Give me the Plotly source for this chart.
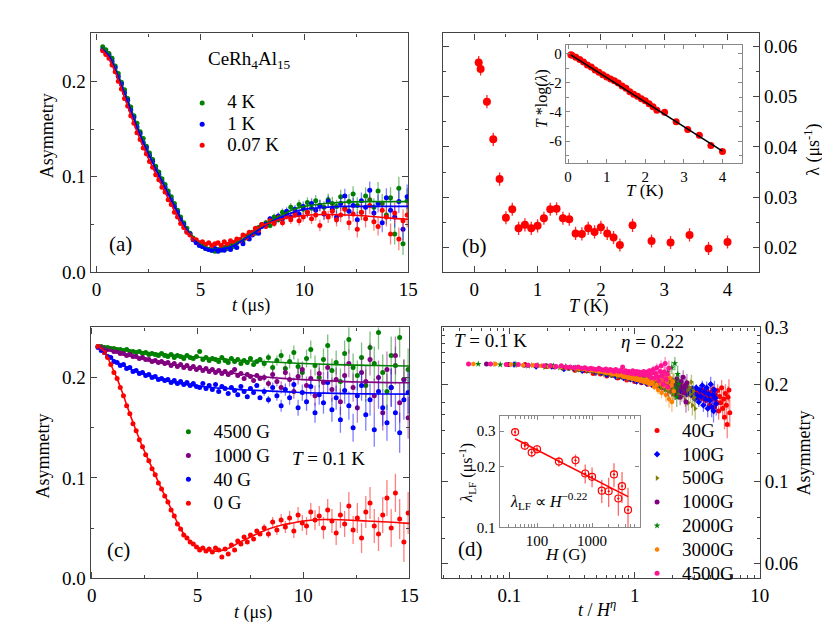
import plotly.graph_objects as go

W, H = 830, 636
SER = "Liberation Serif, 'Times New Roman', Times, serif"


def px(X):
    return X / W


def py(Y):
    return 1 - Y / H


# ---------------- shared time grid (us) ----------------
t_grid = [0.30, 0.45, 0.60, 0.75, 0.90, 1.05, 1.20, 1.35, 1.50, 1.65, 1.80, 1.95, 2.10, 2.25, 2.40, 2.55, 2.70, 2.85,
          3.00, 3.15, 3.30, 3.45, 3.60, 3.75, 3.90, 4.05, 4.20, 4.35, 4.50, 4.65, 4.80, 4.95, 5.10, 5.25, 5.40, 5.55,
          5.70, 5.85, 6.00, 6.15, 6.30, 6.45, 6.60, 6.75, 6.90, 7.05, 7.20, 7.35, 7.50, 7.65, 7.80, 7.95,
          8.15, 8.35, 8.55, 8.75, 8.95, 9.15, 9.35, 9.55, 9.75, 9.95, 10.15, 10.35, 10.55, 10.75, 10.95, 11.15,
          11.35, 11.55, 11.75, 11.95, 12.15, 12.35, 12.55, 12.75, 12.95, 13.15, 13.35, 13.55, 13.75, 13.95, 14.15,
          14.35, 14.55, 14.75, 14.95]

# ---------------- panel (a): ZF asymmetry at 4 K, 1 K, 0.07 K ----------------
a_4K = [0.236, 0.233, 0.229, 0.224, 0.216, 0.208, 0.199, 0.191, 0.182, 0.173, 0.164, 0.156, 0.147, 0.140, 0.132,
        0.125, 0.118, 0.111, 0.105, 0.098, 0.092, 0.085, 0.079, 0.072, 0.065, 0.058, 0.052, 0.046, 0.041, 0.036,
        0.032, 0.029, 0.027, 0.025, 0.024, 0.023, 0.022, 0.024, 0.023, 0.026, 0.025, 0.028, 0.027, 0.031, 0.034,
        0.033, 0.038, 0.040, 0.042, 0.041, 0.047, 0.050,
        0.052, 0.049, 0.058, 0.055, 0.063, 0.060, 0.068, 0.062, 0.071, 0.066, 0.073, 0.067, 0.075, 0.070, 0.068,
        0.076, 0.072, 0.069, 0.079, 0.067, 0.074, 0.082, 0.070, 0.063, 0.080, 0.076, 0.068, 0.085, 0.072, 0.060,
        0.078, 0.040, 0.088, 0.030, 0.075]
a_1K = [0.233, 0.230, 0.227, 0.221, 0.214, 0.205, 0.197, 0.188, 0.180, 0.170, 0.162, 0.152, 0.145, 0.136, 0.130,
        0.122, 0.116, 0.108, 0.102, 0.095, 0.089, 0.082, 0.076, 0.069, 0.063, 0.055, 0.050, 0.043, 0.040, 0.034,
        0.031, 0.028, 0.027, 0.025, 0.024, 0.023, 0.025, 0.022, 0.024, 0.023, 0.027, 0.024, 0.029, 0.026, 0.033,
        0.030, 0.037, 0.035, 0.039, 0.043, 0.041, 0.048,
        0.050, 0.056, 0.053, 0.059, 0.056, 0.064, 0.058, 0.066, 0.061, 0.069, 0.063, 0.072, 0.065, 0.070, 0.061,
        0.074, 0.066, 0.058, 0.072, 0.080, 0.064, 0.070, 0.055, 0.075, 0.068, 0.086, 0.062, 0.072, 0.052, 0.078,
        0.065, 0.058, 0.074, 0.045, 0.079]
a_007K = [0.232, 0.228, 0.224, 0.217, 0.210, 0.200, 0.192, 0.182, 0.174, 0.164, 0.156, 0.146, 0.139, 0.130, 0.124,
          0.116, 0.110, 0.102, 0.097, 0.089, 0.084, 0.076, 0.071, 0.063, 0.058, 0.051, 0.047, 0.042, 0.039, 0.035,
          0.034, 0.031, 0.032, 0.029, 0.031, 0.028, 0.030, 0.031, 0.028, 0.032, 0.029, 0.033, 0.031, 0.035, 0.033,
          0.039, 0.036, 0.042, 0.040, 0.046, 0.044, 0.050,
          0.048, 0.054, 0.051, 0.057, 0.052, 0.059, 0.055, 0.061, 0.054, 0.058, 0.063, 0.056, 0.060, 0.049, 0.062,
          0.058, 0.064, 0.055, 0.060, 0.066, 0.052, 0.061, 0.045, 0.063, 0.056, 0.070, 0.053, 0.048, 0.065, 0.058,
          0.040, 0.062, 0.035, 0.054, 0.060]
err_a = [0.0008, 0.0008, 0.0008, 0.0008, 0.0008, 0.0008, 0.0008, 0.0008, 0.0008, 0.0008,
         0.0008, 0.0008, 0.0008, 0.0008, 0.0008, 0.0008, 0.0008, 0.0008, 0.0008, 0.0008,
         0.0012, 0.0012, 0.0012, 0.0012, 0.0012, 0.0012, 0.0012, 0.0012, 0.0012, 0.0012,
         0.0012, 0.0012, 0.0012, 0.0012, 0.0012, 0.0012, 0.0018, 0.0018, 0.0018, 0.0018,
         0.0018, 0.0018, 0.0018, 0.0018, 0.0018, 0.0018, 0.0018, 0.0018, 0.0018, 0.0018, 0.0018, 0.0018,
         0.003, 0.003, 0.0035, 0.0035, 0.004, 0.004, 0.0045, 0.0045, 0.005, 0.005, 0.0055, 0.0055, 0.006, 0.006,
         0.0065, 0.0065, 0.007, 0.007, 0.0075, 0.0075, 0.008, 0.008, 0.0085, 0.0085, 0.009, 0.009, 0.0095, 0.0095,
         0.010, 0.010, 0.011, 0.011, 0.012, 0.012, 0.013]

t_fit = [0.3, 0.6, 0.9, 1.2, 1.5, 1.8, 2.1, 2.4, 2.7, 3.0, 3.3, 3.6, 3.9, 4.2, 4.5, 4.8, 5.1, 5.4, 5.7, 6.0, 6.5, 7.0,
         7.5, 8.0, 8.5, 9.0, 9.5, 10, 11, 12, 13, 14, 15]
fit_4K = [0.235, 0.229, 0.215, 0.198, 0.181, 0.163, 0.146, 0.131, 0.117, 0.104, 0.091, 0.078, 0.064, 0.051, 0.041,
          0.033, 0.028, 0.0255, 0.0245, 0.025, 0.028, 0.034, 0.041, 0.048, 0.055, 0.061, 0.066, 0.069, 0.072,
          0.0735, 0.074, 0.074, 0.074]
fit_1K = [0.233, 0.227, 0.213, 0.196, 0.179, 0.161, 0.144, 0.129, 0.115, 0.102, 0.089, 0.076, 0.063, 0.050, 0.040,
          0.032, 0.027, 0.0245, 0.024, 0.0245, 0.027, 0.033, 0.040, 0.047, 0.054, 0.059, 0.063, 0.066, 0.068,
          0.069, 0.069, 0.069, 0.069]
fit_007K = [0.232, 0.224, 0.210, 0.192, 0.174, 0.156, 0.139, 0.124, 0.110, 0.097, 0.084, 0.071, 0.058, 0.047, 0.039,
            0.034, 0.031, 0.0295, 0.029, 0.0295, 0.032, 0.037, 0.043, 0.049, 0.053, 0.056, 0.058, 0.0595, 0.0605,
            0.060, 0.059, 0.057, 0.0555]

# ---------------- panel (b): relaxation rate vs T ----------------
T_b = [0.07, 0.1, 0.2, 0.3, 0.4, 0.5, 0.6, 0.7, 0.8, 0.9, 1.0, 1.1, 1.2, 1.3, 1.4, 1.5, 1.6, 1.7, 1.8, 1.9, 2.0, 2.1,
       2.2, 2.3, 2.5, 2.8, 3.1, 3.4, 3.7, 4.0]
lam_b = [0.0568, 0.0555, 0.0490, 0.0415, 0.0336, 0.0259, 0.0276, 0.0238, 0.0245, 0.0238, 0.0243, 0.0258, 0.0276,
         0.0277, 0.0258, 0.0256, 0.0228, 0.0227, 0.0238, 0.0231, 0.0240, 0.0228, 0.0220, 0.0205, 0.0244, 0.0213,
         0.0210, 0.0225, 0.0198, 0.0211]
lam_err = [0.0013, 0.0013, 0.0013, 0.0013, 0.0013, 0.0013, 0.0013, 0.0013, 0.0013, 0.0013, 0.0013, 0.0013, 0.0013,
           0.0013, 0.0013, 0.0013, 0.0013, 0.0013, 0.0013, 0.0013, 0.0013, 0.0013, 0.0013, 0.0013, 0.0013, 0.0013,
           0.0013, 0.0013, 0.0013, 0.0013]
Tlog_b = [-0.087, -0.126, -0.262, -0.415, -0.589, -0.793, -0.935, -1.136, -1.289, -1.461, -1.614, -1.747, -1.871,
          -2.025, -2.224, -2.388, -2.627, -2.795, -2.922, -3.109, -3.240, -3.448, -3.647, -3.883, -4.032, -4.681,
          -5.201, -5.603, -6.302, -6.703]
T_line = [0.07, 4.0]
Tlog_line = [-0.10, -6.68]

# ---------------- panel (c): LF asymmetry at T = 0.1 K ----------------
c_4500G = [0.231, 0.231, 0.230, 0.230, 0.229, 0.229, 0.228, 0.228, 0.227, 0.228, 0.226, 0.226, 0.225, 0.226, 0.224,
           0.225, 0.223, 0.224, 0.223, 0.222, 0.224, 0.222, 0.221, 0.223, 0.220, 0.222, 0.221, 0.219, 0.222, 0.220,
           0.219, 0.221, 0.226, 0.218, 0.220, 0.217, 0.219, 0.218, 0.216, 0.220, 0.217, 0.215, 0.219, 0.216, 0.218,
           0.214, 0.217, 0.215, 0.219, 0.213, 0.216, 0.218,
           0.214, 0.220, 0.210, 0.217, 0.222, 0.209, 0.216, 0.225, 0.211, 0.205, 0.219, 0.228, 0.212, 0.200, 0.218,
           0.232, 0.207, 0.215, 0.196, 0.224, 0.238, 0.210, 0.202, 0.220, 0.192, 0.230, 0.214, 0.245, 0.205, 0.186,
           0.222, 0.212, 0.240, 0.198, 0.208]
c_1000G = [0.231, 0.230, 0.229, 0.228, 0.228, 0.226, 0.226, 0.224, 0.224, 0.222, 0.223, 0.221, 0.221, 0.219, 0.220,
           0.218, 0.218, 0.216, 0.217, 0.215, 0.216, 0.214, 0.215, 0.212, 0.214, 0.211, 0.213, 0.210, 0.212, 0.209,
           0.211, 0.208, 0.210, 0.207, 0.209, 0.206, 0.208, 0.205, 0.207, 0.204, 0.206, 0.203, 0.205, 0.208, 0.202,
           0.204, 0.199, 0.203, 0.201, 0.197, 0.202, 0.199,
           0.200, 0.194, 0.203, 0.196, 0.190, 0.205, 0.198, 0.186, 0.201, 0.208, 0.192, 0.199, 0.182, 0.204, 0.195,
           0.210, 0.188, 0.198, 0.176, 0.202, 0.214, 0.190, 0.170, 0.205, 0.196, 0.218, 0.182, 0.200, 0.165, 0.208,
           0.190, 0.222, 0.175, 0.198, 0.160]
c_40G = [0.230, 0.227, 0.225, 0.221, 0.220, 0.216, 0.215, 0.212, 0.213, 0.209, 0.210, 0.206, 0.207, 0.204, 0.205,
         0.202, 0.203, 0.200, 0.201, 0.198, 0.199, 0.197, 0.198, 0.195, 0.197, 0.194, 0.196, 0.193, 0.195, 0.192,
         0.194, 0.191, 0.190, 0.194, 0.189, 0.192, 0.188, 0.193, 0.186, 0.191, 0.189, 0.184, 0.190, 0.187, 0.183,
         0.191, 0.186, 0.181, 0.189, 0.185, 0.192, 0.180,
         0.186, 0.178, 0.190, 0.182, 0.172, 0.188, 0.180, 0.193, 0.170, 0.185, 0.176, 0.191, 0.165, 0.183, 0.175,
         0.195, 0.168, 0.180, 0.158, 0.187, 0.172, 0.150, 0.182, 0.192, 0.163, 0.178, 0.148, 0.186, 0.170, 0.155,
         0.190, 0.165, 0.145, 0.178, 0.185]
c_0G = [0.231, 0.229, 0.225, 0.220, 0.213, 0.205, 0.199, 0.190, 0.182, 0.172, 0.164, 0.154, 0.147, 0.138, 0.131,
        0.123, 0.117, 0.109, 0.103, 0.095, 0.089, 0.082, 0.076, 0.068, 0.062, 0.054, 0.049, 0.043, 0.040, 0.036,
        0.034, 0.031, 0.028, 0.030, 0.027, 0.029, 0.026, 0.030, 0.028, 0.021, 0.029, 0.024, 0.033, 0.028, 0.037,
        0.034, 0.041, 0.036, 0.043, 0.039, 0.047, 0.044,
        0.050, 0.044, 0.056, 0.048, 0.058, 0.051, 0.060, 0.047, 0.063, 0.055, 0.052, 0.066, 0.058, 0.062, 0.050,
        0.068, 0.057, 0.045, 0.063, 0.054, 0.072, 0.048, 0.060, 0.040, 0.066, 0.075, 0.052, 0.044, 0.063, 0.080,
        0.050, 0.085, 0.059, 0.036, 0.065]
err_c = [0.001, 0.001, 0.001, 0.001, 0.001, 0.001, 0.001, 0.001, 0.001, 0.001,
         0.001, 0.001, 0.001, 0.001, 0.001, 0.001, 0.001, 0.001, 0.001, 0.001,
         0.0015, 0.0015, 0.0015, 0.0015, 0.0015, 0.0015, 0.0015, 0.0015, 0.0015, 0.0015,
         0.0015, 0.0015, 0.0015, 0.0015, 0.0015, 0.0015, 0.002, 0.002, 0.002, 0.002,
         0.002, 0.002, 0.002, 0.002, 0.002, 0.002, 0.002, 0.002, 0.002, 0.002, 0.002, 0.002,
         0.004, 0.004, 0.005, 0.005, 0.006, 0.006, 0.007, 0.007, 0.008, 0.008, 0.009, 0.009, 0.010, 0.010,
         0.011, 0.011, 0.012, 0.012, 0.013, 0.013, 0.014, 0.014, 0.015, 0.015, 0.016, 0.016, 0.017, 0.017,
         0.018, 0.018, 0.019, 0.019, 0.020, 0.020, 0.021]
fit_4500G = [0.231, 0.230, 0.2292, 0.2285, 0.2278, 0.227, 0.2263, 0.2256, 0.225, 0.2243, 0.2237, 0.223, 0.2224,
             0.2218, 0.2212, 0.2207, 0.2202, 0.2197, 0.2192, 0.2188, 0.218, 0.2173, 0.2166, 0.216, 0.2155, 0.215,
             0.2145, 0.214, 0.2133, 0.2127, 0.2122, 0.2118, 0.2115]
fit_1000G = [0.231, 0.229, 0.227, 0.225, 0.223, 0.2215, 0.220, 0.2185, 0.217, 0.216, 0.2148, 0.2136, 0.2125, 0.2115,
             0.2105, 0.2096, 0.2087, 0.2078, 0.207, 0.2062, 0.205, 0.2035, 0.2022, 0.201, 0.200, 0.1992, 0.1985,
             0.198, 0.197, 0.196, 0.1955, 0.195, 0.1948]
fit_40G = [0.230, 0.225, 0.220, 0.215, 0.212, 0.209, 0.206, 0.204, 0.202, 0.200, 0.198, 0.1965, 0.195, 0.194, 0.193,
           0.192, 0.1912, 0.1905, 0.190, 0.1895, 0.189, 0.188, 0.1875, 0.187, 0.1865, 0.186, 0.1855, 0.185, 0.1845,
           0.184, 0.1838, 0.1836, 0.1835]
fit_0G = [0.231, 0.226, 0.213, 0.199, 0.182, 0.164, 0.147, 0.131, 0.117, 0.103, 0.089, 0.076, 0.062, 0.049, 0.040,
          0.034, 0.030, 0.028, 0.027, 0.027, 0.030, 0.036, 0.041, 0.046, 0.050, 0.053, 0.055, 0.057, 0.0585, 0.058,
          0.057, 0.056, 0.0546]

# ---------------- panel (d): scaling plot t / H^eta ----------------
eta = 0.22
fields_d = [40, 100, 500, 1000, 2000, 3000, 4500]
d_100G = [0.230, 0.227, 0.227, 0.223, 0.224, 0.220, 0.221, 0.217, 0.217, 0.214, 0.214, 0.211, 0.212, 0.209, 0.210,
          0.207, 0.207, 0.204, 0.206, 0.203, 0.205, 0.201, 0.203, 0.200, 0.202, 0.199, 0.201, 0.197, 0.200, 0.196,
          0.199, 0.195, 0.198, 0.194, 0.197, 0.193, 0.197, 0.192, 0.196, 0.191, 0.195, 0.190, 0.196, 0.189, 0.194,
          0.191, 0.186, 0.195, 0.188, 0.193, 0.185, 0.194,
          0.188, 0.180, 0.195, 0.184, 0.176, 0.192, 0.183, 0.198, 0.172, 0.189, 0.180, 0.195, 0.168, 0.186, 0.178,
          0.200, 0.170, 0.185, 0.165, 0.192, 0.181, 0.174]
d_500G = [0.231, 0.229, 0.229, 0.226, 0.227, 0.224, 0.225, 0.221, 0.222, 0.219, 0.220, 0.217, 0.218, 0.215, 0.216,
          0.213, 0.214, 0.211, 0.213, 0.210, 0.211, 0.208, 0.210, 0.207, 0.209, 0.206, 0.208, 0.205, 0.207, 0.204,
          0.206, 0.203, 0.205, 0.202, 0.204, 0.201, 0.203, 0.200, 0.203, 0.199, 0.202, 0.198, 0.201, 0.197, 0.202,
          0.196, 0.200, 0.195, 0.201, 0.194, 0.199, 0.196,
          0.197, 0.190, 0.202, 0.186, 0.194, 0.200, 0.183, 0.196, 0.189, 0.178, 0.199, 0.191, 0.175, 0.195, 0.186,
          0.203, 0.172, 0.190, 0.182, 0.168]
d_2000G = [0.231, 0.230, 0.231, 0.228, 0.229, 0.227, 0.228, 0.225, 0.227, 0.224, 0.225, 0.222, 0.224, 0.221, 0.222,
           0.219, 0.221, 0.218, 0.220, 0.216, 0.219, 0.215, 0.218, 0.214, 0.217, 0.213, 0.216, 0.212, 0.215, 0.211,
           0.214, 0.210, 0.213, 0.209, 0.213, 0.208, 0.212, 0.207, 0.211, 0.206, 0.210, 0.205, 0.211, 0.204, 0.209,
           0.203, 0.208, 0.205, 0.201, 0.207, 0.203, 0.206,
           0.204, 0.198, 0.210, 0.195, 0.206, 0.214, 0.192, 0.203, 0.218, 0.190, 0.208, 0.196, 0.225, 0.186, 0.205,
           0.232, 0.194, 0.182, 0.215, 0.200]
d_3000G = [0.231, 0.231, 0.230, 0.229, 0.229, 0.228, 0.227, 0.227, 0.226, 0.225, 0.225, 0.224, 0.223, 0.223, 0.222,
           0.221, 0.221, 0.220, 0.219, 0.219, 0.218, 0.217, 0.217, 0.216, 0.215, 0.216, 0.214, 0.213, 0.214, 0.212,
           0.211, 0.212, 0.210, 0.209, 0.211, 0.208, 0.210, 0.207, 0.209, 0.206, 0.208, 0.205, 0.207, 0.204, 0.206,
           0.203, 0.207, 0.202, 0.205, 0.200, 0.204, 0.201,
           0.203, 0.196, 0.208, 0.199, 0.192, 0.210, 0.201, 0.188, 0.206, 0.197, 0.214, 0.185, 0.203, 0.194, 0.180,
           0.209, 0.198, 0.176, 0.204, 0.190]
d_series = {40: c_40G[:77], 100: d_100G, 500: d_500G, 1000: c_1000G[:72], 2000: d_2000G, 3000: d_3000G,
            4500: c_4500G[:72]}

# inset (d): lambda_LF vs H
H_ins = [40, 60, 80, 100, 250, 500, 750, 1000, 1500, 2000, 2500, 3000, 3500, 4500]
lamLF = [0.297, 0.254, 0.235, 0.244, 0.212, 0.215, 0.185, 0.178, 0.152, 0.151, 0.183, 0.139, 0.160, 0.122]
lamLF_err = [0.012, 0.012, 0.012, 0.012, 0.012, 0.015, 0.020, 0.020, 0.020, 0.025, 0.025, 0.025, 0.028, 0.035]
H_line = [40, 4500]
lamLF_line = [0.275, 0.142]

# ---------------- styles ----------------
GREEN, BLUE, RED = "#008000", "#0000ff", "#ff0000"
PURPLE, OLIVE, ORANGE, PINK = "#800080", "#808000", "#ff8000", "#ff1493"


def rgba(hexc, a):
    h = hexc.lstrip("#")
    return "rgba(%d,%d,%d,%s)" % (int(h[0:2], 16), int(h[2:4], 16), int(h[4:6], 16), a)


def lname(s):
    return '<span style="font-size:19px">%s</span>' % s


fig = go.Figure()


def data_trace(x, y, err, color, name, xa, ya, legend, size=5, symbol="circle", showlegend=True, ealpha=0.5):
    fig.add_trace(go.Scatter(
        x=x, y=y, mode="markers", name=name, legend=legend, showlegend=showlegend,
        xaxis=xa, yaxis=ya,
        marker=dict(color=color, size=size, symbol=symbol, line=dict(width=0)),
        error_y=dict(type="data", array=err, visible=True, color=rgba(color, ealpha), thickness=1.3, width=0),
    ))


def line_trace(x, y, color, xa, ya, width=1.6, spline=True):
    fig.add_trace(go.Scatter(
        x=x, y=y, mode="lines", showlegend=False, xaxis=xa, yaxis=ya,
        line=dict(color=color, width=width, shape="spline" if spline else "linear"),
        hoverinfo="skip",
    ))


# (a)
data_trace(t_grid, a_4K, err_a, GREEN, lname("4 K"), "x", "y", "legend")
data_trace(t_grid, a_1K, err_a, BLUE, lname("1 K"), "x", "y", "legend")
data_trace(t_grid, a_007K, err_a, RED, lname("0.07 K"), "x", "y", "legend")
line_trace(t_fit, fit_4K, GREEN, "x", "y")
line_trace(t_fit, fit_1K, BLUE, "x", "y")
line_trace(t_fit, fit_007K, RED, "x", "y")

# (b)
data_trace(T_b, lam_b, lam_err, RED, "λ", "x2", "y2", "legend", size=8, showlegend=False, ealpha=0.85)
# (b) inset
fig.add_trace(go.Scatter(x=T_b, y=Tlog_b, mode="markers", showlegend=False, xaxis="x3", yaxis="y3",
                         marker=dict(color=RED, size=7, line=dict(width=0))))
line_trace(T_line, Tlog_line, "black", "x3", "y3", width=1.6, spline=False)

# (c)
data_trace(t_grid, c_4500G, err_c, GREEN, lname("4500 G"), "x4", "y4", "legend2")
data_trace(t_grid, c_1000G, err_c, PURPLE, lname("1000 G"), "x4", "y4", "legend2")
data_trace(t_grid, c_40G, err_c, BLUE, lname("40 G"), "x4", "y4", "legend2")
data_trace(t_grid, c_0G, err_c, RED, lname("0 G"), "x4", "y4", "legend2")
line_trace(t_fit, fit_4500G, GREEN, "x4", "y4")
line_trace(t_fit, fit_1000G, PURPLE, "x4", "y4")
line_trace(t_fit, fit_40G, BLUE, "x4", "y4")
line_trace(t_fit, fit_0G, RED, "x4", "y4")

# (d)
d_style = {40: (RED, "circle"), 100: (BLUE, "diamond"), 500: (OLIVE, "triangle-right"),
           1000: (PURPLE, "circle"), 2000: (GREEN, "star"), 3000: (ORANGE, "hexagon"), 4500: (PINK, "circle")}
for Hf in fields_d:
    col, sym = d_style[Hf]
    ys = d_series[Hf]
    n = len(ys)
    xs = [t / Hf ** eta for t in t_grid[:n]]
    data_trace(xs, ys, err_c[:n], col, lname("%dG" % Hf), "x5", "y5", "legend3", size=5, symbol=sym)

# (d) inset
fig.add_trace(go.Scatter(
    x=H_ins, y=lamLF, mode="markers", showlegend=False, xaxis="x6", yaxis="y6",
    marker=dict(color=RED, size=7, symbol="circle-open-dot", line=dict(width=1.2, color=RED)),
    error_y=dict(type="data", array=lamLF_err, visible=True, color=rgba(RED, 0.6), thickness=1.3, width=0),
))
line_trace(H_line, lamLF_line, RED, "x6", "y6", width=1.6, spline=False)

# ---------------- axes ----------------
LC = "#444"
LCI = "#888"


def ax(size=19, lc=LC, **kw):
    d = dict(showline=True, linecolor=lc, linewidth=1.2, mirror="ticks", ticks="inside", ticklen=6,
             tickwidth=1.1, tickcolor=lc, showgrid=False, zeroline=False,
             tickfont=dict(family=SER, size=size, color="black"))
    d.update(kw)
    return d


def mn(dt, lc=LC):
    return dict(ticks="inside", ticklen=3, tickwidth=1, tickcolor=lc, dtick=dt, showgrid=False)


def mnv(vals, lc=LC):
    return dict(ticks="inside", ticklen=3, tickwidth=1, tickcolor=lc, tickmode="array", tickvals=vals,
                showgrid=False)


ya_dom = [py(263), py(16)]
yc_dom = [py(579.3), py(320)]

layout_axes = dict(
    xaxis=ax(domain=[px(80), px(403)], range=[-0.28, 15], tick0=0, dtick=5, minor=mn(2.5), anchor="y"),
    yaxis=ax(domain=ya_dom, range=[0, 0.25], tick0=0, dtick=0.1, tickformat=".1f", minor=mn(0.05), anchor="x"),
    xaxis2=ax(domain=[px(438), px(760)], range=[-0.5, 4.5], tick0=0, dtick=1, minor=mn(0.5), anchor="y2"),
    yaxis2=ax(domain=ya_dom, range=[0.01506, 0.06256], tick0=0, dtick=0.01, tickformat=".2f", minor=mn(0.005),
              side="right", anchor="x2"),
    xaxis3=ax(size=15, lc=LCI, domain=[px(563.3), px(742.3)], range=[-0.06, 4.5], tick0=0, dtick=1,
              minor=mn(0.5, LCI), anchor="y3", ticklen=4),
    yaxis3=ax(size=15, lc=LCI, domain=[py(150), py(28.3)], range=[-7.5, 0.55], tickmode="array",
              tickvals=[0, -2, -4, -6], ticktext=["0", "-2", "-4", "-6"], minor=mn(1, LCI), anchor="x3", ticklen=4),
    xaxis4=ax(domain=[px(80), px(404)], range=[-0.05, 15], tick0=0, dtick=5, minor=mn(2.5), anchor="y4"),
    yaxis4=ax(domain=yc_dom, range=[0, 0.25], tick0=0, dtick=0.1, tickformat=".1f", minor=mn(0.05), anchor="x4"),
    xaxis5=ax(domain=[px(437.3), px(760.7)], type="log", range=[-1.539, 1.0], tickmode="array",
              tickvals=[0.1, 1, 10], ticktext=["0.1", "1", "10"],
              minor=mnv([0.03, 0.04, 0.05, 0.06, 0.07, 0.08, 0.09, 0.2, 0.3, 0.4, 0.5, 0.6, 0.7, 0.8, 0.9,
                         2, 3, 4, 5, 6, 7, 8, 9]), anchor="y5"),
    yaxis5=ax(domain=yc_dom, type="log", range=[-1.30103, -0.52288], tickmode="array",
              tickvals=[0.0557, 0.1, 0.2, 0.3], ticktext=["0.06", "0.1", "0.2", "0.3"],
              minor=mnv([0.0664, 0.0773, 0.122, 0.144, 0.161, 0.176, 0.233, 0.250, 0.267, 0.283]),
              side="right", anchor="x5"),
    xaxis6=ax(size=15, lc=LCI, domain=[px(496), px(638.3)], type="log", range=[1.321, 3.862], tickmode="array",
              tickvals=[100, 1000], ticktext=["100", "1000"],
              minor=mnv([30, 40, 50, 60, 70, 80, 90, 200, 300, 400, 500, 600, 700, 800, 900,
                         2000, 3000, 4000, 5000, 6000, 7000], LCI), anchor="y6", ticklen=4),
    yaxis6=ax(size=15, lc=LCI, domain=[py(526.7), py(411.7)], type="log", range=[-1.0, -0.448], tickmode="array",
              tickvals=[0.1, 0.2, 0.3], ticktext=["0.1", "0.2", "0.3"], anchor="x6", ticklen=4),
)


def ann(text, X, Y, size=18, angle=0, xanchor="center", yanchor="middle"):
    return dict(text=text, x=px(X), y=py(Y), xref="paper", yref="paper", showarrow=False,
                font=dict(family=SER, size=size, color="black"), textangle=angle,
                xanchor=xanchor, yanchor=yanchor)


annotations = [
    ann("CeRh<sub>4</sub>Al<sub>15</sub>", 242, 43, 19),
    ann("(a)", 110, 234, 21),
    ann("(b)", 470, 236, 21),
    ann("(c)", 108, 550, 21),
    ann("(d)", 466, 549, 21),
    ann("<i>T</i> = 0.1 K", 322, 456, 19),
    ann("<i>T</i> = 0.1 K", 487, 334, 19),
    ann("<i>η</i> = 0.22", 651, 335, 19),
    ann("<i>λ</i><sub>LF</sub> ∝ <i>H</i><sup>−0.22</sup>", 546, 500, 16),
    ann("Asymmetry", 36, 122, 18, -90),
    ann("<i>t</i> (μs)", 243, 297, 18),
    ann("<i>T</i> (K)", 587, 298, 18),
    ann("λ (μs<sup>-1</sup>)", 814, 136, 18, -90),
    ann("<i>T</i> *log(<i>λ</i>)", 539, 83, 16, -90),
    ann("<i>T</i> (K)", 643, 178, 17),
    ann("<i>t</i> (μs)", 245, 615, 18),
    ann("Asymmetry", 32, 453, 18, -90),
    ann("<i>t</i> / <i>H</i><sup><i>η</i></sup>", 595, 611, 18),
    ann("Asymmetry", 806, 450, 18, -90),
    ann("<i>λ</i><sub>LF</sub> (μs<sup>-1</sup>)", 463, 470, 16, -90),
    ann("<i>H</i> (G)", 563, 555, 17),
]


def leg(X, Y, size):
    return dict(x=px(X), y=py(Y), xanchor="left", yanchor="top", bgcolor="rgba(0,0,0,0)", borderwidth=0,
                font=dict(family=SER, size=size, color="black"), itemwidth=40, tracegroupgap=0,
                orientation="v")


fig.update_layout(
    width=W, height=H, margin=dict(l=0, r=0, t=0, b=0),
    paper_bgcolor="white", plot_bgcolor="white",
    showlegend=True,
    legend=leg(168, 71.7, 14),
    legend2=leg(154, 410.4, 16),
    legend3=leg(630.7, 409.1, 16),
    annotations=annotations,
    font=dict(family=SER, color="black"),
    **layout_axes,
)

fig.write_html("out.html")
